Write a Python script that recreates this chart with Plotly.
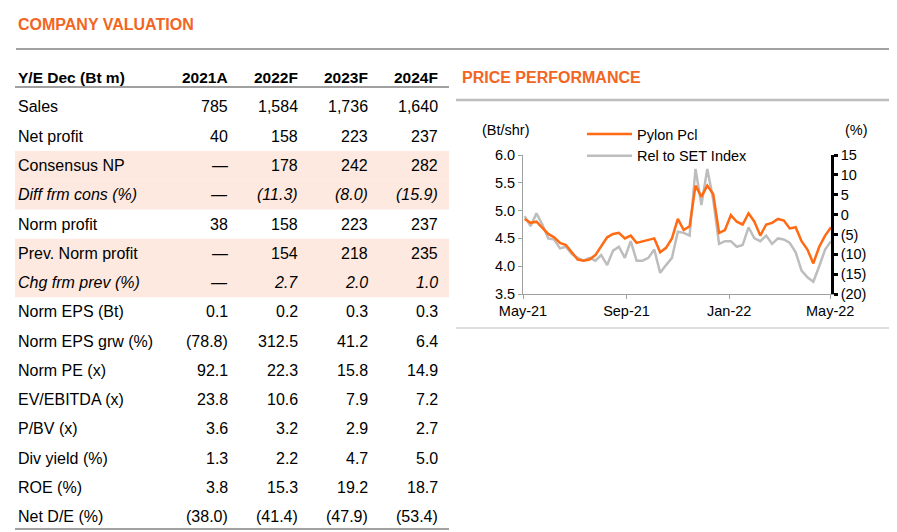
import plotly.graph_objects as go
import pandas as pd

# ---------------- data ----------------
years = ["2021A", "2022F", "2023F", "2024F"]
row_labels = ["Sales", "Net profit", "Consensus NP", "Diff frm cons (%)", "Norm profit",
              "Prev. Norm profit", "Chg frm prev (%)", "Norm EPS (Bt)", "Norm EPS grw (%)",
              "Norm PE (x)", "EV/EBITDA (x)", "P/BV (x)", "Div yield (%)", "ROE (%)", "Net D/E (%)"]
row_values = [
    ["785", "1,584", "1,736", "1,640"],
    ["40", "158", "223", "237"],
    ["—", "178", "242", "282"],
    ["—", "(11.3)", "(8.0)", "(15.9)"],
    ["38", "158", "223", "237"],
    ["—", "154", "218", "235"],
    ["—", "2.7", "2.0", "1.0"],
    ["0.1", "0.2", "0.3", "0.3"],
    ["(78.8)", "312.5", "41.2", "6.4"],
    ["92.1", "22.3", "15.8", "14.9"],
    ["23.8", "10.6", "7.9", "7.2"],
    ["3.6", "3.2", "2.9", "2.7"],
    ["1.3", "2.2", "4.7", "5.0"],
    ["3.8", "15.3", "19.2", "18.7"],
    ["(38.0)", "(41.4)", "(47.9)", "(53.4)"],
]
shaded_rows = [2, 3, 5, 6]
italic_rows = [3, 6]

dates = pd.date_range("2021-05-03", periods=53, freq="7D")
pylon = [4.85, 4.78, 4.80, 4.68, 4.58, 4.52, 4.42, 4.38, 4.25, 4.12, 4.10, 4.12, 4.20, 4.35,
         4.52, 4.58, 4.60, 4.50, 4.55, 4.42, 4.45, 4.48, 4.50, 4.25, 4.33, 4.50, 4.85, 4.65,
         4.72, 5.45, 5.25, 5.45, 5.30, 4.60, 4.65, 4.92, 4.80, 4.75, 4.95, 4.80, 4.55, 4.75,
         4.78, 4.85, 4.82, 4.68, 4.70, 4.45, 4.30, 4.05, 4.35, 4.55, 4.70]
rel_set = [4.90, 4.72, 4.95, 4.75, 4.50, 4.48, 4.32, 4.35, 4.22, 4.15, 4.10, 4.15, 4.10, 4.20,
           4.02, 4.28, 4.35, 4.15, 4.45, 4.10, 4.10, 4.15, 4.30, 3.88, 4.02, 4.15, 4.62, 4.60,
           4.55, 5.75, 5.10, 5.75, 5.20, 4.40, 4.45, 4.45, 4.35, 4.38, 4.70, 4.50, 4.45, 4.55,
           4.40, 4.50, 4.48, 4.42, 4.25, 3.92, 3.80, 3.72, 4.00, 4.30, 4.45]
x_ticks = ["2021-05-01", "2021-09-01", "2022-01-01", "2022-05-01"]
x_ticklabels = ["May-21", "Sep-21", "Jan-22", "May-22"]
right_ticks = [-20, -15, -10, -5, 0, 5, 10, 15]
right_labels = ["(20)", "(15)", "(10)", "(5)", "0", "5", "10", "15"]

# ---------------- layout helpers ----------------
W, H = 897, 532
FONT = "Liberation Sans, Arial, sans-serif"
ORANGE = "#F26522"
def px(x): return x / W
def py(y): return 1 - y / H

def text(x, y, s, anchor="left", size=16, color="black"):
    return dict(xref="paper", yref="paper", x=px(x), y=py(y), text=s, xanchor=anchor,
                yanchor="middle", showarrow=False, font=dict(size=size, color=color))

fig = go.Figure()
fig.add_trace(go.Scatter(x=dates, y=rel_set, name="Rel to SET Index", mode="lines",
                         line=dict(color="#BDBDBD", width=2.5)))
fig.add_trace(go.Scatter(x=dates, y=pylon, name="Pylon Pcl", mode="lines",
                         line=dict(color="#FF6A13", width=2.5)))
fig.add_trace(go.Scatter(x=[dates[0]], y=[0], yaxis="y2", mode="markers",
                         marker=dict(opacity=0), showlegend=False, hoverinfo="skip"))

shapes, ann = [], []
shapes.append(dict(type="line", xref="paper", yref="paper", x0=px(8), x1=px(885), y0=py(41), y1=py(41),
                   line=dict(color="#444", width=1)))
ann.append(text(8, 17, "<b>COMPANY VALUATION</b>", color=ORANGE))
col_right = [222, 292, 362, 432]
ann.append(text(8, 69, "<b>Y/E Dec (Bt m)</b>", size=15.5))
for c, yr in enumerate(years):
    ann.append(text(col_right[c], 69, f"<b>{yr}</b>", anchor="right", size=15.5))
shapes.append(dict(type="line", xref="paper", yref="paper", x0=px(7), x1=px(441), y0=py(79), y1=py(79),
                   line=dict(color="#A0A0A0", width=2)))
row_h = 29.25
y0 = 99
for i, (lab, vals) in enumerate(zip(row_labels, row_values)):
    yc = y0 + i * row_h
    if i in shaded_rows:
        shapes.append(dict(type="rect", xref="paper", yref="paper", x0=px(7), x1=px(441),
                           y0=py(yc - row_h / 2), y1=py(yc + row_h / 2), fillcolor="#FDE9DF",
                           line=dict(width=0), layer="below"))
    it = i in italic_rows
    fmt = (lambda s: f"<i>{s}</i>") if it else (lambda s: s)
    ann.append(text(8, yc, fmt(lab)))
    for c, v in enumerate(vals):
        ann.append(text(col_right[c], yc, fmt(v), anchor="right"))
shapes.append(dict(type="line", xref="paper", yref="paper", x0=px(7), x1=px(441), y0=py(521), y1=py(521),
                   line=dict(color="#444", width=1)))

ann.append(text(452, 70, "<b>PRICE PERFORMANCE</b>", color=ORANGE))
shapes.append(dict(type="line", xref="paper", yref="paper", x0=px(448), x1=px(885), y0=py(92), y1=py(92),
                   line=dict(color="#BDBDBD", width=2.5)))
shapes.append(dict(type="line", xref="paper", yref="paper", x0=px(448), x1=px(885), y0=py(320), y1=py(320),
                   line=dict(color="#BDBDBD", width=1)))
ann.append(text(472, 122, "(Bt/shr)", size=14.5))
ann.append(text(862, 122, "(%)", anchor="right", size=14.5))

fig.update_layout(
    width=W, height=H, margin=dict(l=0, r=0, t=0, b=0, autoexpand=False),
    paper_bgcolor="white", plot_bgcolor="white",
    font=dict(family=FONT, size=14.5, color="black"),
    shapes=shapes, annotations=ann,
    showlegend=True,
    legend=dict(x=px(574), y=py(110), xanchor="left", yanchor="top", bgcolor="rgba(0,0,0,0)",
                font=dict(size=14.5), traceorder="reversed", tracegroupgap=0, itemwidth=45),
    xaxis=dict(domain=[px(515), px(823)], range=[pd.Timestamp("2021-05-01"), pd.Timestamp("2022-05-02")],
               tickvals=x_ticks, ticktext=x_ticklabels, showgrid=False, showline=True,
               linecolor="#A0A0A0", linewidth=1, ticks="outside", ticklen=4, tickcolor="#A0A0A0",
               tickfont=dict(size=14.5), automargin=False),
    yaxis=dict(domain=[1 - 286 / H, 1 - 147 / H], range=[3.5, 6.0], dtick=0.5, tickformat=".1f",
               showgrid=False, showline=True, linecolor="#A0A0A0", ticks="outside", ticklen=4,
               tickcolor="#A0A0A0", zeroline=False, tickfont=dict(size=14.5), automargin=False),
    yaxis2=dict(overlaying="y", side="right", anchor="x", range=[-20, 15], tickvals=right_ticks,
                ticktext=right_labels, showgrid=False, showline=True, linecolor="black", linewidth=2.5,
                ticks="outside", ticklen=4, tickwidth=2.5, tickcolor="black", zeroline=False,
                tickfont=dict(size=14.5), automargin=False),
)
fig.write_html("out.html")
